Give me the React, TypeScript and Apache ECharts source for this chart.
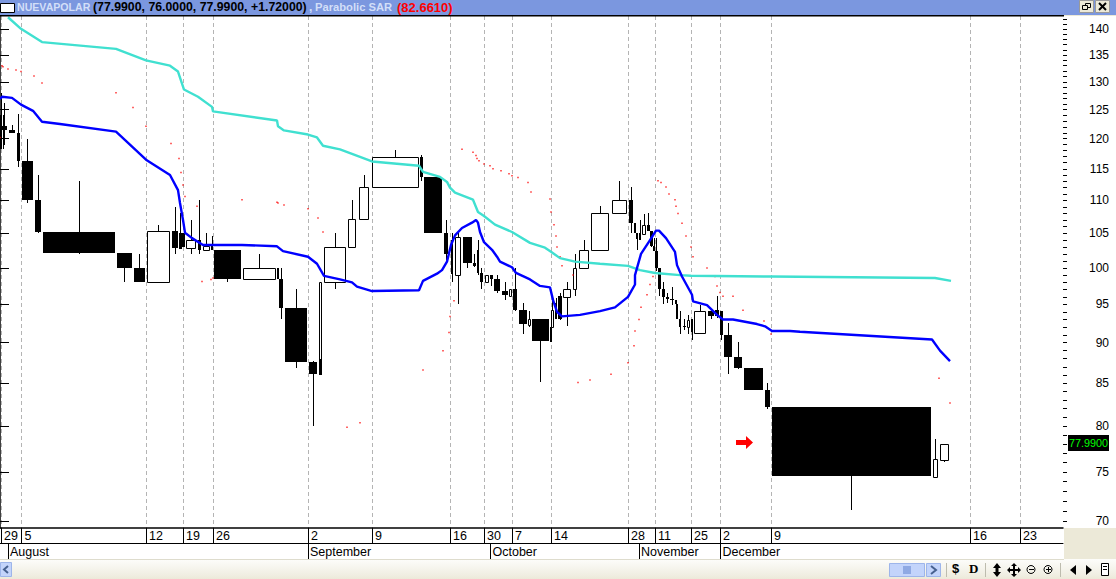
import React, { useEffect, useRef } from "react";
import * as echarts from "echarts";

const xStart = [0,2.5,2,9,17,22,35,43,117,134, 147,172,179,182,186,198,203,211,214,243, 277,279,285,309,319,319,324,348,359,372, 420,424,444,451,455,463,473,477,480,485, 490,494,502,509,513,519,528,532,550,551, 555,558,563,573,579,591,612,629,634,636, 639,642,647,650,653,655,658,662,666,670, 675,676,679,683,687,691,694,708,715,720, 724,734,744,765,772,933,940];
const xEnd = [2,3.5,7,15,20,33,41,115,132,145, 170,178,181.5,185,196,201,210,213,241,276, 279,283,307,317,322,322,346,356,369,419, 423,442,448,453,461,472,476,479,483,489, 493,500,508,512,517,527,531,549,552,554, 557,562,571,577,589,609,627,633,636,638, 641,646,650,653,655,658,661,665,669,674, 677,678,681,686,690,693,706,714,719,723, 732,742,763,770,931,938,949];
const opens = [124.1,124.1,122.1,121.4,121,116.3,110.1,105.2,102.2,100, 98.1,105.4,105.1,105.1,102.9,104,102.5,103.3,102.6,98.4, 100,98.4,94.5,87.6,86.1,88,98.1,103,107.2,112.1, 117,113.7,105.1,104,99,104.4,100.7,102.6,99.3,98, 99,98.4,96.8,96.1,97.1,94.2,92.3,93,92,92, 95.2,96.1,96,97.1,100,102.6,108,110.1,106.5,105.1, 105.1,104.9,106.3,105.4,103.1,102.4,100,97.1,96,95.7, 95.6,95,93,92.1,92,93,91.3,94.1,94.2,94.1, 91,88.2,86.8,84.2,82.2,74.5,76.3];
const closes = [118.2,118.2,121.4,121,116.3,110.1,105.2,102.2,100,98.1, 105.4,102.9,102.7,103,104,102.6,103.1,102.6,98.4,100, 98.4,94.5,87.6,86.1,98.1,86,103,107.2,112.1,117, 113.7,105,102,99.2,104.4,100.7,100.3,99.3,98.1,99, 98.4,96.8,96.3,97.1,94.2,92.4,93,90.2,90.1,94.2, 93.1,93,97.1,100,102.6,108,110.1,106.5,105.1,104.2, 104,106.3,105.4,103.1,102.4,100,97.1,96,95.7,95.6, 95,93,92,92,92.9,91.4,94.1,93.4,93.4,91, 88.2,86.8,84.2,82.2,74.6,76.4,77.99];
const highs = [128,124.1,126.1,122.4,124.3,120,114,113.1,102.2,102, 106.2,109,108,105.1,107,110.1,105.1,104.6,102.6,102, 100,100,97.1,87.7,98.1,88,105.1,110.1,114,118.1, 117.3,113.7,107,105.1,105.1,104.4,102,104,100,99, 99,99,98.1,97.1,100,95.2,94.1,93,92,95.9, 95.9,96.5,98.1,102,104,109.2,113.1,112.1,106.5,105.1, 107,107.9,108,105.4,104.3,104.3,100,98.1,96.6,97.4, 95.6,95,94.1,93,93.6,93,94.9,94.1,96.1,94.1, 92.6,90.1,86.8,85,82.2,78.6,77.99];
const lows = [118.2,118.2,119,121,115.3,109.6,105.1,102,98.1,98.1, 98.1,102,102.7,103,102,102,102.5,102.6,98.1,98.4, 98.4,93.1,86.8,80,86.1,86,97.1,103,107.2,112.1, 113.1,105,101.1,98.1,95,100,100.1,99,97.1,98, 97.5,96.5,95.6,96.1,94.1,91.1,92,85.1,90.1,92, 93,92.9,92.1,96.1,100,102.6,108,105.1,105.1,102.6, 104,104.9,105.4,103,102.4,99.6,96.1,95,95.2,94.9, 95,93,91.1,91.6,91.1,90.4,91.3,93,93.2,90.4, 86.1,86.7,84.2,82,71.1,74.5,76.1];

const tealX = [8,21,42,116,146,170,178,184,198,212,213,277,278,284,308,317,323,340,372,419,423,440,447,450,455,473,478,484,495,512,530,545,551,560,575,600,628,640,655,680,691,771,935,951];
const tealP = [142.4,140.1,137.5,136.2,134,133,131.9,128.6,127.3,125.5,124.7,123.1,122.1,121.4,120.7,120.2,118.8,118.2,116.2,115.5,114.5,113.7,112.9,112,111.2,110.1,108.2,107.6,106.3,105.2,103.6,102.9,102.3,101.4,100.9,100.6,100.3,99.7,99.3,99,98.9,98.8,98.6,98.2];
const blueX = [0,2,12,21,33,42,60,116,146,170,178,180,183,185,192,203,242,277,283,308,317,324,340,352,357,372,419,423,437,442,447,451,455,462,472,476,478,480,484,492,497,500,512,516,530,540,550,553,557,562,580,600,615,628,635,635,641,650,656,659,666,675,677,682,692,693,707,717,723,733,757,765,772,790,800,932,940,950];
const blueP = [126.9,127.3,127.1,125.9,124.8,122.9,122.5,121.2,116.5,114,111.6,109.6,107,105.1,104.3,103.3,103.3,103.1,102.4,101.6,100.6,98.9,98.4,98,97.4,96.8,96.9,98.2,99.2,99.7,100.9,103.3,104.7,105.8,106.6,107,106.6,105.2,103.7,102.6,101.6,100.9,100.1,99.3,98.4,97.5,97.3,95.6,94,93.4,93.6,94.1,94.6,96,97.7,99,102,104,105.4,105.4,104.3,102.3,100.4,98.8,96.3,95.4,94.9,93.6,93,93,92.4,92.1,91.5,91.5,91.4,90.4,89,87.7];

const sarX = [0,2,3,8,16,21,34,42,116,133,146,171,179,181,183,185,197,202,211,213,242,277,278,284,308,318,323,347,360,423,443,449,450,454,462,473,476,477,479,484,490,493,501,509,512,518,528,531,550,551,554,556,557,560,562,573,578,590,611,628,634,635,639,641,647,650,653,658,661,666,669,675,676,678,682,686,691,693,707,715,717,720,723,733,743,764,771,939,950];
const sarP = [120.2,133,132.8,132.4,132.2,131.9,131.1,129.8,128,125.4,122.1,119.2,116.7,114.4,112.4,110.6,109.1,98.1,98.4,98.6,110.1,109.7,109.6,109.3,108.7,107.3,105.2,79.9,80.4,86.6,89,91.3,93.4,95.5,118.2,117.7,117.2,116.7,116.3,115.8,115.5,115,114.7,114.2,113.9,113.6,112.8,111.3,110.2,108.2,106.3,104.6,103,101.6,100.3,99,85.1,85.4,86.1,87.5,89.6,91.5,93,94.6,96.3,97.7,98.8,113.1,112.8,112.1,111,110.1,109.1,108,106.5,104.6,103,101.6,100,98.8,97.5,96.6,96.1,96.1,94.2,92.8,91.1,85.6,82.661];

const dateX = [1,21.5,146,183,213,308,372,450,484,512,551,628,655,691,720,771,970,1020];
const dateLabels = ["29","5","12","19","26","2","9","16","30","7","14","28","11","25","2","9","16","23"];
const monthX = [8,308,490.5,639,720.5];
const monthLabels = ["August","September","October","November","December"];
const priceTicks = [70,75,80,85,90,95,100,105,110,115,120,125,130,135,140];
const minorTicks = [70,71,72,73,74,75,76,77,78,79,80,81,82,83,84,85,86,87,88,89,90,91,92,93,94,95,96,97,98,99,100,101,102,103,104,105,106,107,108,109,110,111,112,113,114,115,116,117,118,119,120,121,122,123,124,125,126,127,128,129,130,131,132,133,134,135,136,137,138,139,140,141,142];

const FONT = "'Liberation Sans', Arial, sans-serif";
const PRICE_MIN = 69.31;
const PRICE_MAX = 142.65;

function renderCandle(_: any, api: any) {
  const xa = Math.round(api.coord([api.value(0), 100])[0]);
  const xb = Math.max(xa + 1, Math.round(api.coord([api.value(1), 100])[0]));
  const o = api.value(2), c = api.value(3), h = api.value(4), l = api.value(5);
  const yo = Math.round(api.coord([0, o])[1]);
  const yc = Math.round(api.coord([0, c])[1]);
  const yh = Math.round(api.coord([0, h])[1]);
  const yl = Math.round(api.coord([0, l])[1]);
  const mid = Math.floor((xa + xb) / 2);
  const top = Math.min(yo, yc);
  const bodyH = Math.max(1, Math.abs(yo - yc));
  const wick = { type: "rect", shape: { x: mid, y: yh, width: 1, height: Math.max(0, yl - yh) }, style: { fill: "#000" } };
  const body = c < o
    ? { type: "rect", shape: { x: xa, y: top, width: xb - xa, height: bodyH }, style: { fill: "#000" } }
    : { type: "rect", shape: { x: xa + 0.5, y: top + 0.5, width: Math.max(1, xb - xa - 1), height: bodyH }, style: { fill: "#fff", stroke: "#000", lineWidth: 1 } };
  return { type: "group", children: [wick, body] };
}

const candleRows = xStart.map((x, i) => [x, xEnd[i], opens[i], closes[i], highs[i], lows[i]]);
const zip = (a: number[], b: number[]) => a.map((x, i) => [x, b[i]]);

const chrome: any[] = [
  { type: "rect", z: 20, shape: { x: 0, y: 0, width: 1116, height: 15 }, style: { fill: "#7b97df" } },
  { type: "rect", z: 20, shape: { x: 0, y: 15, width: 1064, height: 1.5 }, style: { fill: "#000" } },
  { type: "rect", z: 20, shape: { x: 1064, y: 15, width: 52, height: 1 }, style: { fill: "#ece9d8" } },
  { type: "rect", z: 21, shape: { x: 0.5, y: 3.5, width: 14, height: 9 }, style: { fill: "#fff", stroke: "#000", lineWidth: 1 } },
  { type: "text", z: 21, x: 17, y: 1.5, style: { text: "NUEVAPOLAR", fill: "#d3dff8", font: `bold 10.6px ${FONT}` } },
  { type: "text", z: 21, x: 93, y: 1, style: { text: "(77.9900, 76.0000, 77.9900, +1.72000)", fill: "#000", font: `bold 12.3px ${FONT}` } },
  { type: "text", z: 21, x: 309, y: 1, style: { text: ",", fill: "#d3dff8", font: `bold 12px ${FONT}` } },
  { type: "text", z: 21, x: 315, y: 1.5, style: { text: "Parabolic SAR", fill: "#d3dff8", font: `bold 11.2px ${FONT}` } },
  { type: "text", z: 21, x: 397, y: 0.5, style: { text: "(82.6610)", fill: "#ff0000", font: `bold 13px ${FONT}` } },
  { type: "rect", z: 21, shape: { x: 1079.5, y: 0.5, width: 14, height: 12 }, style: { fill: "#ece9d8", stroke: "#999", lineWidth: 1 } },
  { type: "rect", z: 22, shape: { x: 1085.5, y: 3.5, width: 5, height: 4 }, style: { fill: "none", stroke: "#000", lineWidth: 1 } },
  { type: "rect", z: 22, shape: { x: 1082.5, y: 5.5, width: 5, height: 4 }, style: { fill: "#ece9d8", stroke: "#000", lineWidth: 1 } },
  { type: "rect", z: 21, shape: { x: 1095.5, y: 0.5, width: 14, height: 12 }, style: { fill: "#ece9d8", stroke: "#999", lineWidth: 1 } },
  { type: "line", z: 22, shape: { x1: 1099, y1: 3, x2: 1106, y2: 10 }, style: { stroke: "#000", lineWidth: 2 } },
  { type: "line", z: 22, shape: { x1: 1106, y1: 3, x2: 1099, y2: 10 }, style: { stroke: "#000", lineWidth: 2 } },

  { type: "polygon", z: 15, shape: { points: [[736, 440], [746, 440], [746, 436], [753, 442.5], [746, 449], [746, 445], [736, 445]] }, style: { fill: "#ff0000" } },
  { type: "rect", z: 15, shape: { x: 1068, y: 435, width: 41, height: 16 }, style: { fill: "#000" } },
  { type: "text", z: 16, x: 1069, y: 437.5, style: { text: "77.9900", fill: "#00ff00", font: `10.8px ${FONT}` } },

  { type: "rect", z: 12, shape: { x: 1064, y: 528, width: 52, height: 51 }, style: { fill: "#ece9d8" } },
  { type: "rect", z: 12, shape: { x: 0, y: 559, width: 1116, height: 20 }, style: { fill: { type: "linear", x: 0, y: 0, x2: 0, y2: 1, colorStops: [{ offset: 0, color: "#fdfdfb" }, { offset: 0.8, color: "#f0eee2" }, { offset: 1, color: "#ece9d8" }] } } },
  { type: "rect", z: 13, shape: { x: 0, y: 559, width: 1064, height: 1 }, style: { fill: "#dedccd" } },
  { type: "rect", z: 13, shape: { x: 0.5, y: 562.5, width: 11, height: 14 }, style: { fill: "#c3d4fb", stroke: "#9db5ea", lineWidth: 1 } },
  { type: "polyline", z: 14, shape: { points: [[8, 566], [4, 569.5], [8, 573]] }, style: { stroke: "#46608f", lineWidth: 2, fill: "none" } },
  { type: "rect", z: 13, shape: { x: 889.5, y: 563.5, width: 35, height: 13 }, style: { fill: "#c3d4fb", stroke: "#9db5ea", lineWidth: 1 } },
  { type: "rect", z: 14, shape: { x: 903, y: 566, width: 8, height: 8 }, style: { fill: "#8fa9e3" } },
  { type: "rect", z: 13, shape: { x: 926.5, y: 563.5, width: 14, height: 13 }, style: { fill: "#c3d4fb", stroke: "#9db5ea", lineWidth: 1 } },
  { type: "polyline", z: 14, shape: { points: [[931, 566], [936, 570], [931, 574]] }, style: { stroke: "#46608f", lineWidth: 2, fill: "none" } },
  { type: "rect", z: 14, shape: { x: 946, y: 563, width: 1, height: 14 }, style: { fill: "#bdbcae" } },
  { type: "rect", z: 14, shape: { x: 985, y: 563, width: 1, height: 14 }, style: { fill: "#bdbcae" } },
  { type: "rect", z: 14, shape: { x: 1060, y: 563, width: 1, height: 14 }, style: { fill: "#bdbcae" } },
  { type: "text", z: 14, x: 952, y: 562, style: { text: "$", fill: "#000", font: `bold 13px ${FONT}` } },
  { type: "text", z: 14, x: 969, y: 562, style: { text: "D", fill: "#000", font: `bold 13px 'Liberation Serif', serif` } },
  { type: "polygon", z: 14, shape: { points: [[997, 563], [1001, 568], [998.5, 568], [998.5, 572], [1001, 572], [997, 577], [993, 572], [995.5, 572], [995.5, 568], [993, 568]] }, style: { fill: "#000" } },
  { type: "polygon", z: 14, shape: { points: [[1014, 563], [1017, 566], [1015, 566], [1015, 569], [1018, 569], [1018, 567], [1021, 570], [1018, 573], [1018, 571], [1015, 571], [1015, 574], [1017, 574], [1014, 577], [1011, 574], [1013, 574], [1013, 571], [1010, 571], [1010, 573], [1007, 570], [1010, 567], [1010, 569], [1013, 569], [1013, 566], [1011, 566]] }, style: { fill: "#000" } },
  { type: "circle", z: 14, shape: { cx: 1031, cy: 569.5, r: 4 }, style: { fill: "none", stroke: "#000", lineWidth: 1 } },
  { type: "rect", z: 14, shape: { x: 1029, y: 569, width: 5, height: 1 }, style: { fill: "#000" } },
  { type: "circle", z: 14, shape: { cx: 1048, cy: 569.5, r: 4 }, style: { fill: "none", stroke: "#000", lineWidth: 1 } },
  { type: "rect", z: 14, shape: { x: 1046, y: 569, width: 5, height: 1 }, style: { fill: "#000" } },
  { type: "rect", z: 14, shape: { x: 1048, y: 567, width: 1, height: 5 }, style: { fill: "#000" } },
  { type: "polygon", z: 14, shape: { points: [[1076, 565], [1076, 575], [1070, 570]] }, style: { fill: "#000" } },
  { type: "polygon", z: 14, shape: { points: [[1086, 565], [1086, 575], [1092, 570]] }, style: { fill: "#000" } },
  { type: "rect", z: 14, shape: { x: 1101.5, y: 563.5, width: 7, height: 12 }, style: { fill: "#fff", stroke: "#000", lineWidth: 1 } },
  { type: "rect", z: 15, shape: { x: 1103, y: 566, width: 4, height: 1 }, style: { fill: "#000" } },
  { type: "rect", z: 15, shape: { x: 1103, y: 569, width: 4, height: 1 }, style: { fill: "#000" } },
];

export default function App() {
  const ref = useRef<HTMLDivElement>(null);
  useEffect(() => {
    const chart = echarts.init(ref.current!, undefined, { renderer: "svg" });
    const grid = { left: 0, right: 53, top: 16, bottom: 51, containLabel: false };
    const noSplit = { show: false };
    chart.setOption({
      animation: false,
      backgroundColor: "#fff",
      grid,
      graphic: chrome,
      xAxis: [
        {
          type: "value", min: 0, max: 1063, position: "bottom", scale: true,
          axisLine: { show: true, lineStyle: { color: "#000", width: 1.5 } },
          axisTick: { show: true, length: 15, customValues: dateX, lineStyle: { color: "#000", width: 1 } },
          axisLabel: {
            show: true, customValues: dateX, margin: 1, align: "left", padding: [0, 0, 0, 3],
            color: "#000", fontFamily: FONT, fontSize: 12.5,
            formatter: (v: number) => dateLabels[dateX.indexOf(v)],
          },
          splitLine: { show: true, lineStyle: { color: "#b4b4b4", type: [4, 3], width: 1 } },
        },
        {
          type: "value", min: 0, max: 1063, position: "bottom", offset: 15, scale: true,
          axisLine: { show: true, lineStyle: { color: "#000", width: 1 } },
          axisTick: { show: true, length: 16, customValues: monthX, lineStyle: { color: "#000", width: 1 } },
          axisLabel: {
            show: true, customValues: monthX, margin: 2, align: "left", padding: [0, 0, 0, 2],
            color: "#000", fontFamily: FONT, fontSize: 12.5,
            formatter: (v: number) => monthLabels[monthX.indexOf(v)],
          },
          splitLine: noSplit,
        },
      ],
      yAxis: [
        {
          type: "log", min: PRICE_MIN, max: PRICE_MAX, show: false, splitLine: noSplit,
        },
        {
          type: "value", position: "right", min: Math.log(PRICE_MIN), max: Math.log(PRICE_MAX), scale: true,
          axisLine: { show: true, lineStyle: { color: "#000", width: 1.5 } },
          axisTick: { show: true, length: 9, customValues: priceTicks.map(Math.log), lineStyle: { color: "#000" } },
          axisLabel: {
            show: true, customValues: priceTicks.map(Math.log), margin: 46, align: "right", padding: [5, 0, 0, 0],
            color: "#000", fontFamily: FONT, fontSize: 12,
            formatter: (v: number) => String(Math.round(Math.exp(v))),
          },
          splitLine: noSplit,
        },
        {
          type: "value", position: "right", min: Math.log(PRICE_MIN), max: Math.log(PRICE_MAX), scale: true,
          axisLine: { show: false },
          axisTick: { show: true, length: 4, customValues: minorTicks.map(Math.log), lineStyle: { color: "#000" } },
          axisLabel: { show: false },
          splitLine: noSplit,
        },
      ],
      series: [
        {
          type: "custom", name: "NUEVAPOLAR", xAxisIndex: 0, yAxisIndex: 0, z: 3, clip: true,
          encode: { x: [0, 1], y: [2, 3, 4, 5] }, data: candleRows, renderItem: renderCandle,
        },
        {
          type: "scatter", name: "Parabolic SAR", xAxisIndex: 0, yAxisIndex: 0, z: 4, symbol: "rect", symbolSize: 1.5,
          itemStyle: { color: "#ff0000" }, data: zip(sarX, sarP), silent: true,
        },
        {
          type: "line", name: "Upper", xAxisIndex: 0, yAxisIndex: 0, z: 5, symbol: "none",
          lineStyle: { color: "#40e0d0", width: 2.4 }, data: zip(tealX, tealP),
        },
        {
          type: "line", name: "Lower", xAxisIndex: 0, yAxisIndex: 0, z: 5, symbol: "none",
          lineStyle: { color: "#0000ff", width: 2.4 }, data: zip(blueX, blueP),
        },
      ],
    });
    return () => chart.dispose();
  }, []);
  return <div ref={ref} style={{ position: "absolute", left: 0, top: 0, width: 1116, height: 579 }} />;
}
